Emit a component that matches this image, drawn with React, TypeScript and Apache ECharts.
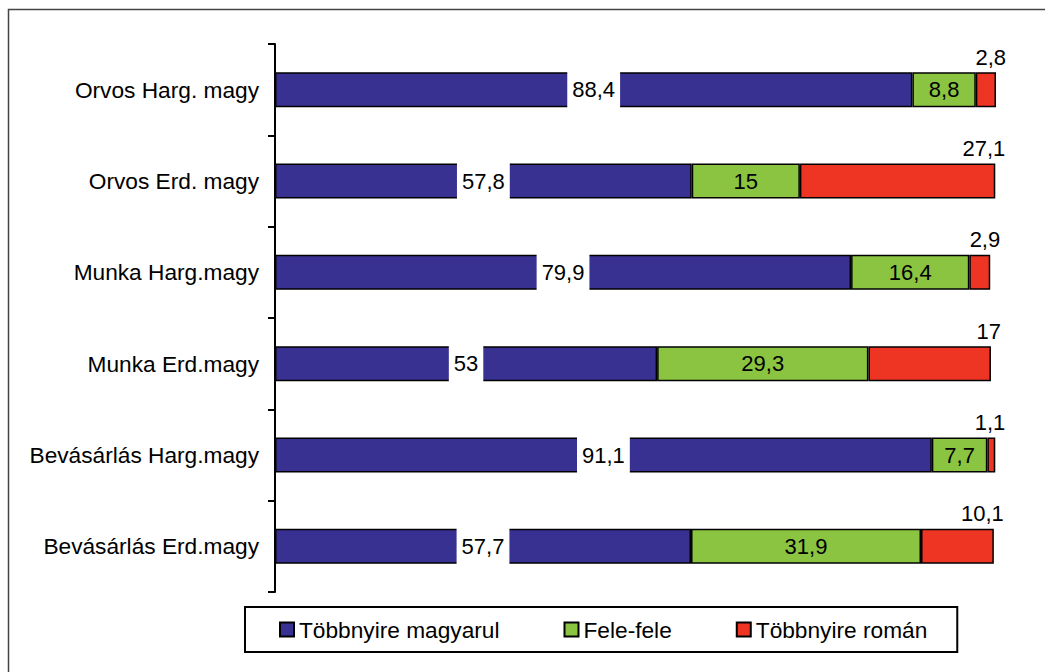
import React, { useEffect, useRef } from "react";
import * as echarts from "echarts";

const categories = [
  "Orvos Harg. magy",
  "Orvos Erd. magy",
  "Munka Harg.magy",
  "Munka Erd.magy",
  "Bevásárlás Harg.magy",
  "Bevásárlás Erd.magy",
];
const seriesNames = ["Többnyire magyarul", "Fele-fele", "Többnyire román"];
const magyarul = [88.4, 57.8, 79.9, 53, 91.1, 57.7];
const felefele = [8.8, 15, 16.4, 29.3, 7.7, 31.9];
const roman = [2.8, 27.1, 2.9, 17, 1.1, 10.1];

const FONT = "'Liberation Sans', Arial, sans-serif";
const fmt = (p: any) => String(p.value).replace(".", ",");

export default function App() {
  const ref = useRef<HTMLDivElement>(null);
  useEffect(() => {
    if (!ref.current) return;
    const chart = echarts.init(ref.current, undefined, { renderer: "svg" });
    const barBase = {
      type: "bar",
      stack: "total",
      barWidth: 35,
      itemStyle: { borderColor: "#000", borderWidth: 1.5 },
    };
    chart.setOption({
      animation: false,
      backgroundColor: "#fff",
      textStyle: { fontFamily: FONT },
      graphic: [
        {
          type: "polyline",
          shape: { points: [[8.5, 672], [8.5, 9.5], [1045, 9.5]] },
          style: { stroke: "#444", lineWidth: 1.5, fill: null },
          silent: true,
        },
      ],
      grid: { left: 275, right: 49, top: 44, bottom: 80, containLabel: false },
      xAxis: {
        type: "value",
        min: 0,
        max: 100,
        show: false,
      },
      yAxis: {
        type: "category",
        inverse: true,
        data: categories,
        axisLine: { show: true, lineStyle: { color: "#000", width: 2 } },
        axisTick: { show: true, length: 7, lineStyle: { color: "#000", width: 2 } },
        axisLabel: { color: "#000", fontSize: 22.7, margin: 16, fontFamily: FONT },
        splitLine: { show: false },
      },
      legend: {
        left: 245,
        top: 607,
        orient: "horizontal",
        selectedMode: false,
        itemWidth: 14,
        itemHeight: 14,
        itemGap: 64,
        padding: [11, 30, 11, 34],
        borderColor: "#000",
        borderWidth: 2,
        icon: "rect",
        textStyle: { color: "#000", fontSize: 22.7, fontFamily: FONT },
        data: seriesNames,
      },
      series: [
        {
          ...barBase,
          name: seriesNames[0],
          data: magyarul,
          itemStyle: { ...barBase.itemStyle, color: "#383191" },
          label: {
            show: true,
            position: "inside",
            formatter: fmt,
            color: "#000",
            fontSize: 22,
            fontFamily: FONT,
            lineHeight: 22,
            backgroundColor: "#fff",
            padding: [8, 5, 8, 5],
          },
        },
        {
          ...barBase,
          name: seriesNames[1],
          data: felefele,
          itemStyle: { ...barBase.itemStyle, color: "#8ac441" },
          label: {
            show: true,
            position: "inside",
            formatter: fmt,
            color: "#000",
            fontSize: 22,
            fontFamily: FONT,
          },
        },
        {
          ...barBase,
          name: seriesNames[2],
          data: roman,
          itemStyle: { ...barBase.itemStyle, color: "#ee3524" },
          label: {
            show: true,
            position: ["100%", 0],
            align: "right",
            verticalAlign: "bottom",
            offset: [10, -4],
            formatter: fmt,
            color: "#000",
            fontSize: 22,
            fontFamily: FONT,
          },
        },
      ],
    });
    return () => chart.dispose();
  }, []);
  return (
    <div
      ref={ref}
      style={{ position: "absolute", left: 0, top: 0, width: 1045, height: 672, background: "#fff" }}
    />
  );
}
